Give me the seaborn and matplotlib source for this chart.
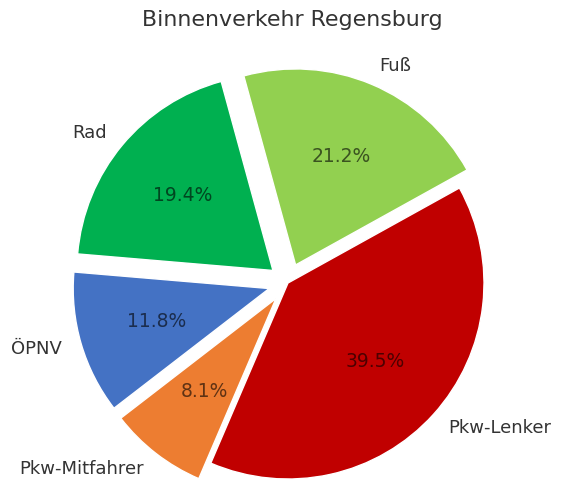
import numpy as np
import matplotlib
matplotlib.use("Agg")
import matplotlib.pyplot as plt
import seaborn as sns

# data
labels = ['Fuß', 'Rad', 'ÖPNV', 'Pkw-Mitfahrer', 'Pkw-Lenker']
shares = [21.2, 19.4, 11.8, 8.1, 39.5]
colors = ['#92D050', '#00B050', '#4472C4', '#ED7D31', '#C00000']
explode = [0.1, 0.1, 0.1, 0.1, 0.0]

sns.set_style("white")
plt.rcParams['font.family'] = ['DejaVu Sans']

fig = plt.figure(figsize=(5.65, 4.84), dpi=100)
ax = fig.add_axes([0, 0, 1, 1])

wedges, texts, autotexts = ax.pie(shares, labels=labels, colors=sns.color_palette(colors),
                                  explode=explode, startangle=29, autopct='%1.1f%%',
                                  textprops={'fontsize': 13, 'color': '#333333'})
for t in autotexts:
    t.set_color('black')
    t.set_alpha(0.6)
    t.set_fontsize(13.5)

ax.set_aspect('auto')
# pie centre at about (288, 283) px, radius ~196 px
r = 196
ax.set_xlim(-288 / r, (565 - 288) / r)
ax.set_ylim(-(484 - 283) / r, 283 / r)

fig.text(0.517, 0.958, 'Binnenverkehr Regensburg', ha='center', va='center',
         fontsize=15.9, color='#333333')

plt.savefig('out.png', dpi=100)
